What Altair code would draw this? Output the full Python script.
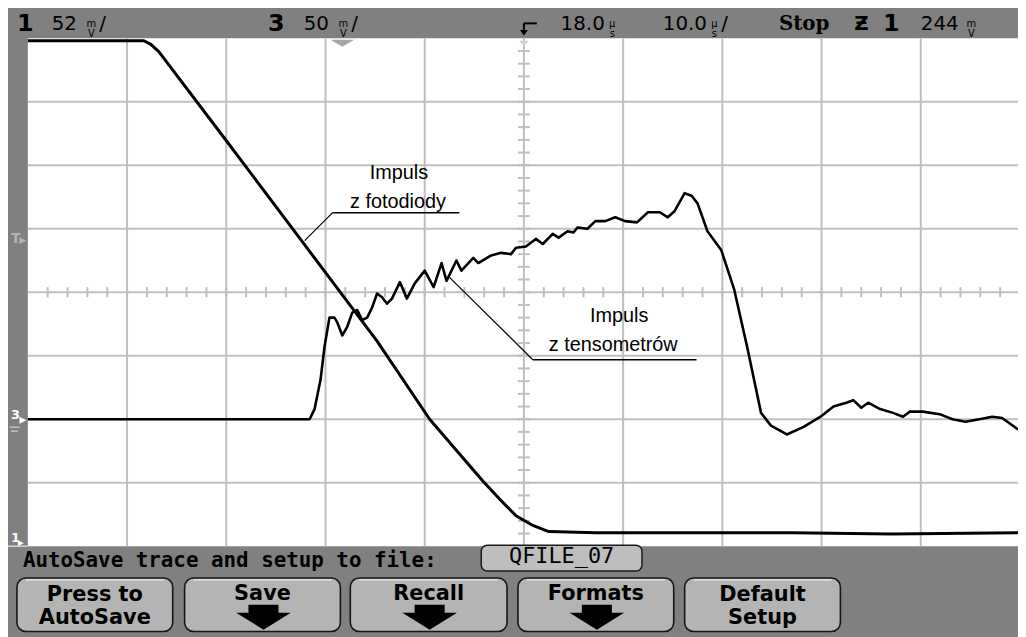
import altair as alt
import pandas as pd
import numpy as np

# ---------------- values read from the oscilloscope screen ----------------
# time in µs (10 µs/div, delay 18.0 µs), amplitude in mV
CH1_MV_PER_DIV = 52      # channel 1 : photodiode
CH3_MV_PER_DIV = 50      # channel 3 : strain gauges
CH1_GROUND_DIV = -4.0    # "1" ground marker (bottom edge)
CH3_GROUND_DIV = -2.0    # "3" ground marker

ch1_time = [-32.0, -20.3, -19.6, -18.8, -11.8, -4.3, 3.2, 8.5, 13.9, 15.5,
            17.2, 18.9, 20.5, 25.2, 35.0, 45.0, 55.0, 67.8]
ch1_mv = [414, 414, 411, 405, 330, 249, 168, 104, 53, 39,
          25, 17, 12, 11, 11, 11, 10, 11]

ch3_time = [-32.0, -3.6, -3.1, -2.5, -2.1, -1.6, -1.1, -0.8, -0.3, 0.2,
            0.7, 1.2, 1.7, 2.2, 2.7, 3.2, 3.7, 4.2, 4.7, 5.5,
            6.2, 7.0, 8.0, 8.9, 9.7, 10.2, 11.2, 11.7, 12.9, 13.4,
            14.7, 15.7, 16.7, 17.2, 18.2, 19.2, 19.9, 20.9, 21.5, 22.4,
            23.0, 23.4, 24.4, 25.2, 26.2, 27.2, 28.2, 29.4, 30.5, 31.7,
            32.5, 33.2, 34.2, 34.9, 35.5, 36.5, 37.9, 39.2, 40.5, 41.2,
            41.9, 42.9, 44.5, 46.2, 47.9, 49.2, 50.5, 51.2, 52.0, 52.7,
            53.9, 55.2, 56.2, 56.9, 58.2, 59.9, 61.2, 62.5, 63.9, 65.2,
            66.2, 67.8]
ch3_mv = [0, 0, 8, 31, 57, 80, 80, 76, 66, 73,
          84, 86, 78, 80, 88, 99, 96, 91, 95, 108,
          95, 107, 117, 104, 123, 109, 125, 117, 127, 123,
          129, 131, 130, 135, 136, 142, 138, 146, 143, 148,
          147, 151, 150, 156, 156, 159, 156, 155, 163, 163,
          159, 164, 178, 176, 170, 148, 133, 102, 57, 31,
          5, -5, -12, -6, 2, 10, 13, 15, 9, 13,
          8, 5, 2, 6, 6, 4, 0, -2, 0, 2,
          1, -8]

button_labels = [["Press to", "AutoSave"], ["Save"], ["Recall"], ["Formats"], ["Default", "Setup"]]

# ---------------- tables ----------------
ch1 = pd.DataFrame({"t": ch1_time, "mv": ch1_mv})
ch1["pos"] = ch1["mv"] / CH1_MV_PER_DIV + CH1_GROUND_DIV
ch3 = pd.DataFrame({"t": ch3_time, "mv": ch3_mv})
ch3["pos"] = ch3["mv"] / CH3_MV_PER_DIV + CH3_GROUND_DIV

T0, T1 = -32, 68
frame = pd.DataFrame({"t1": [T0], "t2": [T1], "d1": [-4], "d2": [4]})
vgrid = pd.DataFrame({"t": np.arange(-22, 67, 10)})
vgrid["d1"], vgrid["d2"] = -4, 4
hgrid = pd.DataFrame({"d": np.arange(-3, 4, 1)})
hgrid["t1"], hgrid["t2"] = T0, T1
hticks = pd.DataFrame({"t": np.arange(-30, 68, 2)})
hticks["d1"], hticks["d2"] = -0.08, 0.08
vticks = pd.DataFrame({"d": np.round(np.arange(-3.8, 3.9, 0.2), 2)})
vticks["t1"], vticks["t2"] = 17.4, 18.6
one = pd.DataFrame({"k": [0]})

xs = alt.Scale(domain=[T0, T1], range=[20, 1020], nice=False, zero=False)
ys = alt.Scale(domain=[-4, 4], range=[540, 28], nice=False, zero=False)


def X(f):
    return alt.X(f, type="quantitative", scale=xs, axis=None)


def Y(f):
    return alt.Y(f, type="quantitative", scale=ys, axis=None)


OFF = 8  # page margin: reference pixel -> chart pixel
GRID = "#BFBFBF"
BG = "#808080"


def v(p):
    return alt.value(p - OFF)


def label(text, x, y, size=20, font="DejaVu Sans", weight="normal",
          color="#000000", align="left", baseline="middle", lh=None):
    kw = dict(text=text, font=font, fontSize=size, fontWeight=weight,
              color=color, align=align, baseline=baseline)
    if lh is not None:
        kw["lineHeight"] = lh
    return alt.Chart(one).mark_text(**kw).encode(x=v(x), y=v(y))


def box(x1, y1, x2, y2, fill, stroke=None, sw=1.0, r=0):
    kw = dict(fill=fill, cornerRadius=r)
    if stroke is not None:
        kw.update(stroke=stroke, strokeWidth=sw)
    else:
        kw.update(strokeWidth=0)
    return alt.Chart(one).mark_rect(**kw).encode(x=v(x1), x2=v(x2), y=v(y1), y2=v(y2))


def seg(x1, y1, x2, y2, color="#000000", w=1.0):
    return alt.Chart(one).mark_rule(color=color, strokeWidth=w).encode(
        x=v(x1), x2=v(x2), y=v(y1), y2=v(y2))


def shape(path, x, y, size, color):
    return alt.Chart(one).mark_point(shape=path, filled=True, size=size,
                                     color=color, opacity=1, strokeWidth=0).encode(x=v(x), y=v(y))


def unit(top, bottom, cx):
    # stacked unit glyph (e.g. m over V) as one two-line text
    return [label([top, bottom], cx, 22, size=10, align="center", lh=10)]


layers = []

# graticule
layers.append(alt.Chart(frame).mark_rect(fill="#FFFFFF").encode(
    x=X("t1"), x2="t2", y=Y("d1"), y2="d2"))
layers.append(alt.Chart(vgrid).mark_rule(color=GRID, strokeWidth=2).encode(
    x=X("t"), y=Y("d1"), y2="d2"))
layers.append(alt.Chart(hgrid).mark_rule(color=GRID, strokeWidth=2).encode(
    y=Y("d"), x=X("t1"), x2="t2"))
layers.append(alt.Chart(hticks).mark_rule(color=GRID, strokeWidth=2).encode(
    x=X("t"), y=Y("d1"), y2="d2"))
layers.append(alt.Chart(vticks).mark_rule(color=GRID, strokeWidth=2).encode(
    y=Y("d"), x=X("t1"), x2="t2"))
layers.append(shape("M-1,-0.3 L1,-0.3 L0,0.3 Z", 345, 41, 576, "#A8A8A8"))
layers.append(shape("M-1,-0.5 L1,-0.5 L0,0.5 Z", 528, 41, 100, "#D0D0D0"))

# traces
layers.append(alt.Chart(ch1).mark_line(color="#000000", strokeWidth=3, strokeJoin="round").encode(
    x=X("t"), y=Y("pos")))
layers.append(alt.Chart(ch3).mark_line(color="#000000", strokeWidth=2.6, strokeJoin="round").encode(
    x=X("t"), y=Y("pos")))

# annotations
ANN = "Liberation Sans"
layers += [
    label("Impuls", 402, 172, size=20, font=ANN, align="center"),
    label("z fotodiody", 401, 201, size=20, font=ANN, align="center"),
    seg(335, 212, 463, 212, w=1.5),
    seg(335, 212, 307, 240, w=1.2),
    label("Impuls", 624, 316, size=20, font=ANN, align="center"),
    label("z tensometrów", 618, 345, size=20, font=ANN, align="center"),
    seg(537, 360, 702, 360, w=1.5),
    seg(537, 360, 453, 277, w=1.2),
]

# top status bar
TOPF = 20
layers += [label("1", 17, 22, size=24, weight="bold"),
           label("52", 52, 22, size=TOPF)] + unit("m", "V", 92) + [
           label("/", 100, 22, size=TOPF),
           label("3", 270, 22, size=24, weight="bold"),
           label("50", 306, 22, size=TOPF)] + unit("m", "V", 346) + [
           label("/", 354, 22, size=TOPF),
           seg(528, 21, 541, 21, w=2), seg(528, 21, 528, 29, w=2),
           shape("M-1,-0.6 L1,-0.6 L0,0.8 Z", 528, 30, 64, "#000000"),
           label("18.0", 565, 22, size=TOPF)] + unit("µ", "s", 617) + [
           label("10.0", 668, 22, size=TOPF)] + unit("µ", "s", 720) + [
           label("/", 727, 22, size=TOPF),
           label("Stop", 785, 22, size=20, font="DejaVu Serif", weight="bold"),
           label("Ƶ", 861, 22, size=20, weight="bold"),
           label("1", 890, 22, size=24, weight="bold"),
           label("244", 928, 22, size=TOPF)] + unit("m", "V", 979)

# left-side markers
layers += [
    label("T", 11, 238, size=14, weight="bold", color="#B4B4B4"),
    shape("M-1,-1 L1,0 L-1,1 Z", 23, 240, 49, "#B4B4B4"),
    label("3", 11, 416, size=13, weight="bold", color="#FFFFFF"),
    shape("M-1,-1 L1,0 L-1,1 Z", 23, 421, 49, "#FFFFFF"),
    seg(10, 428, 20, 428, color="#E0E0E0", w=1),
    seg(11, 432, 18, 432, color="#E0E0E0", w=1),
    label("1", 11, 540, size=13, weight="bold", color="#FFFFFF"),
    shape("M-1,-1 L1,0 L-1,1 Z", 21, 545, 36, "#FFFFFF"),
    seg(8, 548, 28, 548, color="#D8D8D8", w=1.5),
]

# bottom bar
layers += [
    label("AutoSave trace and setup to file:", 23, 563, size=21, font="DejaVu Sans Mono", weight="bold"),
    box(485, 547, 647, 573, "#BEBEBE", stroke="#1A1A1A", sw=1.5, r=6),
    label("QFILE_07", 566, 558, size=22, font="DejaVu Sans Mono", align="center"),
]

ARROW = "M-0.55,-0.47 L0.55,-0.47 L0.55,-0.18 L1,-0.18 L0,0.44 L-1,-0.18 L-0.55,-0.18 Z"
btn_x = [(17, 174), (186, 343), (353, 511), (522, 679), (690, 847)]
for (x1, x2), labs in zip(btn_x, button_labels):
    cx = (x1 + x2) / 2
    layers.append(box(x1, 580, x2, 634, "#B4B4B4", stroke="#151515", sw=1.6, r=9))
    layers.append(seg(x1 + 9, 582, x2 - 9, 582, color="#E8E8E8", w=1.2))
    if len(labs) == 2:
        layers.append(label(labs[0], cx, 597, size=21, weight="bold", align="center"))
        layers.append(label(labs[1], cx, 620, size=21, weight="bold", align="center"))
    else:
        layers.append(label(labs[0], cx, 596, size=21, weight="bold", align="center"))
        layers.append(shape(ARROW, cx + 1, 620, 3025, "#000000"))

chart = alt.layer(*layers).properties(
    width=1018, height=629,
    autosize=alt.AutoSizeParams(type="none"),
    padding=0,
    background=BG,
).configure_view(fill=BG, stroke=None)

chart.save("out.html", embed_options={"renderer": "svg", "actions": False})
